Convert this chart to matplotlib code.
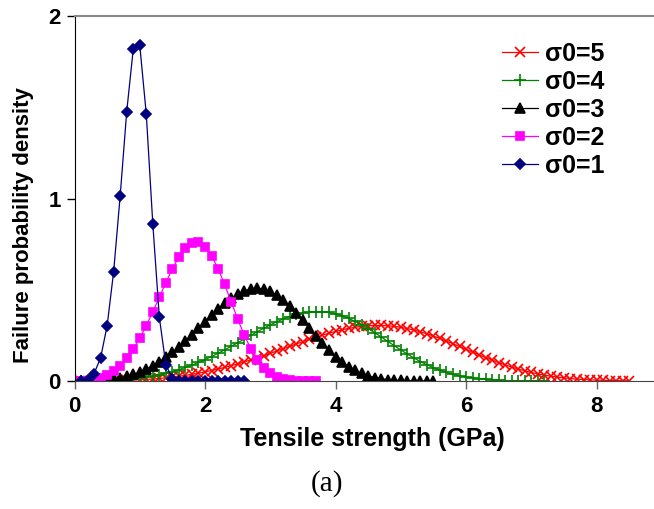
import matplotlib
matplotlib.use("Agg")
import matplotlib.pyplot as plt

# tensile strength grid (GPa), each curve uses the first len(values) points
strength = [0.1, 0.2, 0.3, 0.4, 0.5, 0.6, 0.7, 0.8, 0.9, 1.0,
            1.1, 1.2, 1.3, 1.4, 1.5, 1.6, 1.7, 1.8, 1.9, 2.0,
            2.1, 2.2, 2.3, 2.4, 2.5, 2.6, 2.7, 2.8, 2.9, 3.0,
            3.1, 3.2, 3.3, 3.4, 3.5, 3.6, 3.7, 3.8, 3.9, 4.0,
            4.1, 4.2, 4.3, 4.4, 4.5, 4.6, 4.7, 4.8, 4.9, 5.0,
            5.1, 5.2, 5.3, 5.4, 5.5, 5.6, 5.7, 5.8, 5.9, 6.0,
            6.1, 6.2, 6.3, 6.4, 6.5, 6.6, 6.7, 6.8, 6.9, 7.0,
            7.1, 7.2, 7.3, 7.4, 7.5, 7.6, 7.7, 7.8, 7.9, 8.0,
            8.1, 8.2, 8.3, 8.4, 8.5]

dens_s5 = [0.0, 0.0001, 0.0002, 0.0004, 0.0008, 0.0014, 0.0022, 0.0033, 0.0047, 0.0064,
           0.0085, 0.0110, 0.0140, 0.0175, 0.0214, 0.0259, 0.0310, 0.0367, 0.0430, 0.0499,
           0.0575, 0.0656, 0.0745, 0.0839, 0.0939, 0.1046, 0.1157, 0.1273, 0.1394, 0.1518,
           0.1645, 0.1773, 0.1903, 0.2031, 0.2158, 0.2283, 0.2402, 0.2516, 0.2622, 0.2719,
           0.2807, 0.2882, 0.2945, 0.2993, 0.3026, 0.3043, 0.3044, 0.3027, 0.2994, 0.2943,
           0.2875, 0.2793, 0.2697, 0.2586, 0.2463, 0.2330, 0.2189, 0.2042, 0.1891, 0.1738,
           0.1585, 0.1434, 0.1287, 0.1146, 0.1011, 0.0884, 0.0766, 0.0657, 0.0559, 0.0471,
           0.0393, 0.0324, 0.0265, 0.0214, 0.0171, 0.0135, 0.0105, 0.0081, 0.0062, 0.0047,
           0.0035, 0.0025, 0.0018, 0.0013, 0.0009]

dens_s4 = [0.0, 0.0001, 0.0004, 0.0010, 0.0020, 0.0034, 0.0054, 0.0080, 0.0114, 0.0156,
           0.0207, 0.0268, 0.0339, 0.0422, 0.0517, 0.0624, 0.0743, 0.0875, 0.1019, 0.1174,
           0.1341, 0.1518, 0.1704, 0.1897, 0.2096, 0.2297, 0.2499, 0.2698, 0.2891, 0.3075,
           0.3245, 0.3399, 0.3533, 0.3644, 0.3728, 0.3782, 0.3806, 0.3797, 0.3755, 0.3679,
           0.3571, 0.3434, 0.3267, 0.3079, 0.2871, 0.2646, 0.2412, 0.2172, 0.1934, 0.1701,
           0.1475, 0.1263, 0.1067, 0.0888, 0.0729, 0.0589, 0.0468, 0.0367, 0.0282, 0.0214,
           0.0159, 0.0116, 0.0083, 0.0058, 0.0040, 0.0027, 0.0018, 0.0012, 0.0007, 0.0004,
           0.0003, 0.0002]

dens_s3 = [0.0001, 0.0004, 0.0013, 0.0032, 0.0062, 0.0107, 0.0169, 0.0252, 0.0357, 0.0488,
           0.0646, 0.0832, 0.1047, 0.1292, 0.1566, 0.1865, 0.2188, 0.2530, 0.2884, 0.3243,
           0.3597, 0.3937, 0.4253, 0.4532, 0.4764, 0.4937, 0.5043, 0.5076, 0.5031, 0.4905,
           0.4705, 0.4434, 0.4105, 0.3729, 0.3320, 0.2896, 0.2474, 0.2065, 0.1684, 0.1340,
           0.1039, 0.0785, 0.0577, 0.0411, 0.0285, 0.0191, 0.0124, 0.0078, 0.0047, 0.0028,
           0.0015, 0.0008, 0.0004, 0.0002, 0.0001]

dens_s2 = [0.0003, 0.0020, 0.0067, 0.0160, 0.0311, 0.0536, 0.0845, 0.1248, 0.1749, 0.2348,
           0.3037, 0.3795, 0.4594, 0.5396, 0.6149, 0.6798, 0.7287, 0.7564, 0.7595, 0.7358,
           0.6867, 0.6157, 0.5293, 0.4345, 0.3403, 0.2527, 0.1776, 0.1178, 0.0734, 0.0427,
           0.0232, 0.0117, 0.0054, 0.0023, 0.0009, 0.0003, 0.0001]

dens_s1 = [0.0005, 0.0080, 0.0404, 0.1267, 0.3029, 0.5995, 1.0148, 1.4758, 1.8177, 1.8394,
           1.4627, 0.8607, 0.3486, 0.0887, 0.0127, 0.0009, 0.0, 0.0, 0.0, 0.0,
           0.0, 0.0, 0.0, 0.0, 0.0, 0.0]

labels = ["σ0=5", "σ0=4", "σ0=3", "σ0=2", "σ0=1"]
series = [dens_s5, dens_s4, dens_s3, dens_s2, dens_s1]
colors = ["#FF0000", "#008000", "#000000", "#FF00FF", "#000080"]
markers = ["x", "+", "^", "s", "D"]
msizes = [7, 8, 7.5, 6, 5.5]

plt.rcParams["font.family"] = ["Liberation Sans", "DejaVu Sans"]
plt.rcParams["font.weight"] = "bold"

fig = plt.figure(figsize=(6.54, 5.09), dpi=100)
ax = fig.add_axes([74.5 / 654, 128 / 509, 1 - 74.5 / 654, 365 / 509])

for vals, lab, col, mk, ms in zip(series, labels, colors, markers, msizes):
    ax.plot(strength[:len(vals)], vals, color=col, marker=mk, markersize=ms,
            markeredgewidth=1.2, linewidth=0.9, label=lab)

ax.set_xlim(0, 8.88)
ax.set_ylim(0, 2)
ax.set_xticks([0, 2, 4, 6, 8])
ax.set_yticks([0, 1, 2])
ax.tick_params(axis="both", labelsize=16, direction="out", length=6, width=1)
ax.tick_params(axis="x", colors="#666666", labelcolor="black", pad=5)
ax.tick_params(axis="y", pad=4)

ax.spines["right"].set_visible(False)
ax.spines["top"].set_color("#888888")
ax.spines["top"].set_linewidth(1.5)
ax.spines["bottom"].set_color("#444444")
ax.spines["left"].set_color("black")

fig.text(372 / 654, 1 - 439 / 509, "Tensile strength (GPa)", fontsize=18,
         fontweight="bold", ha="center", va="center")
fig.text(24 / 654, 1 - 225 / 509, "Failure probability density", fontsize=16,
         fontweight="bold", rotation=90, ha="center", va="center")

ax.legend(loc="upper left", bbox_to_anchor=(502 / 654, 1 - 42 / 509),
          bbox_transform=fig.transFigure, frameon=False, fontsize=18,
          handlelength=1.45, handletextpad=0.25, labelspacing=0.16,
          borderpad=0, borderaxespad=0)

fig.text(327 / 654, 1 - 484 / 509, "(a)", fontsize=21, fontweight="normal",
         family=["Liberation Serif", "DejaVu Serif"], ha="center", va="center")

fig.savefig("out.png", dpi=100)
plt.close(fig)
